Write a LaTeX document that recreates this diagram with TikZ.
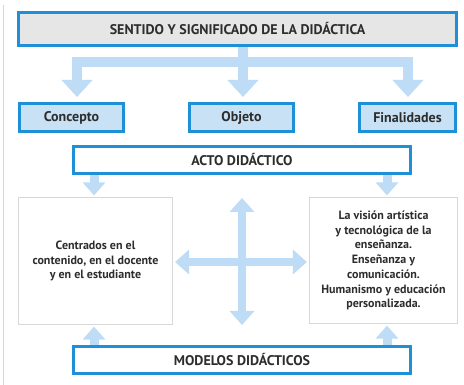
\documentclass[tikz,border=0pt]{standalone}
\usepackage{fontspec}
\setmainfont{PT Sans}
\usetikzlibrary{arrows.meta}
\definecolor{bord}{RGB}{30,144,216}
\definecolor{arrc}{RGB}{190,220,245}
\definecolor{lfill}{RGB}{200,225,245}
\definecolor{gfill}{RGB}{230,230,230}
\definecolor{txt}{RGB}{45,45,45}
\definecolor{gline}{RGB}{215,215,215}
\begin{document}
\begin{tikzpicture}[x=1pt,y=-1pt,
  bluebox/.style={draw=bord,line width=3pt,text=txt,inner sep=0pt,font=\bfseries\fontsize{14}{16}\selectfont},
  graybox/.style={draw=gline,line width=1.2pt,fill=white,text=txt,align=center,inner sep=0pt,font=\bfseries\fontsize{12}{14.7}\selectfont},
  bigshaft/.style={draw=arrc,line width=10pt},
  bigarrow/.style={bigshaft,-{Triangle[width=30pt,length=17pt]},shorten >=5pt},
  smallarrow/.style={draw=arrc,line width=9pt,-{Triangle[width=22pt,length=13pt]}},
  crossarrow/.style={draw=arrc,line width=8pt,{Triangle[width=24pt,length=14pt]}-{Triangle[width=24pt,length=14pt]}}
]
\useasboundingbox (0,0) rectangle (464,385);
\fill[white] (0,0) rectangle (464,385);
\draw[arrc,line width=1pt] (3,5) -- (3,385);

\node[bluebox,fill=gfill,minimum width=438pt,minimum height=33pt] (top) at (237.5,29) {SENTIDO Y SIGNIFICADO DE LA DIDÁCTICA};
\node[bluebox,fill=lfill,minimum width=104pt,minimum height=28pt] (con) at (71.5,117.5) {Concepto};
\node[bluebox,fill=lfill,minimum width=104pt,minimum height=28pt] (obj) at (241.5,117.5) {Objeto};
\node[bluebox,fill=lfill,minimum width=96pt,minimum height=28pt] (fin) at (407.5,117.5) {Finalidades};

\node[bluebox,fill=white,minimum width=337pt,minimum height=27pt] (acto) at (242,160) {ACTO DIDÁCTICO};
\node[bluebox,fill=white,minimum width=337pt,minimum height=27pt] (mod) at (242,360) {MODELOS DIDÁCTICOS};

\node[graybox,minimum width=154pt,minimum height=127pt] (lb) at (95.5,261) {Centrados en el\\contenido, en el docente\\y en el estudiante};
\node[graybox,minimum width=148pt,minimum height=126pt] (rb) at (383.5,260.5) {La visión artística\\y tecnológica de la\\enseñanza.\\Enseñanza y\\comunicación.\\Humanismo y educación\\personalizada.};

% top distribution arrows
\coordinate (j0) at (243,62);
\coordinate (j1) at (77,62);
\coordinate (j3) at (408,62);
\draw[bigshaft] (top.south -| j0) -- (j0);
\draw[bigshaft,line cap=rect] (j1) -- (j3);
\draw[bigarrow] (j1) -- (j1 |- con.north);
\draw[bigarrow] (j0) -- (j0 |- obj.north);
\draw[bigarrow] (j3) -- (j3 |- fin.north);

% acto -> boxes
\coordinate (a1) at (94,0);
\coordinate (a2) at (387,0);
\draw[smallarrow,shorten >=1.5pt] (acto.south -| a1) -- (a1 |- lb.north);
\draw[smallarrow,shorten >=1.5pt] (acto.south -| a2) -- (a2 |- rb.north);
% modelos -> boxes
\draw[smallarrow,shorten >=1.5pt] (mod.north -| a1) -- (a1 |- lb.south);
\draw[smallarrow,shorten >=1.5pt] (mod.north -| a2) -- (a2 |- rb.south);

% cross
\coordinate (vt) at (242,198);
\coordinate (vb) at (242,325);
\draw[crossarrow] (vt) -- (vb);
\draw[crossarrow,shorten <=2pt,shorten >=2pt] (lb.east |- 0,262) -- (rb.west |- 0,262);
\end{tikzpicture}
\end{document}
